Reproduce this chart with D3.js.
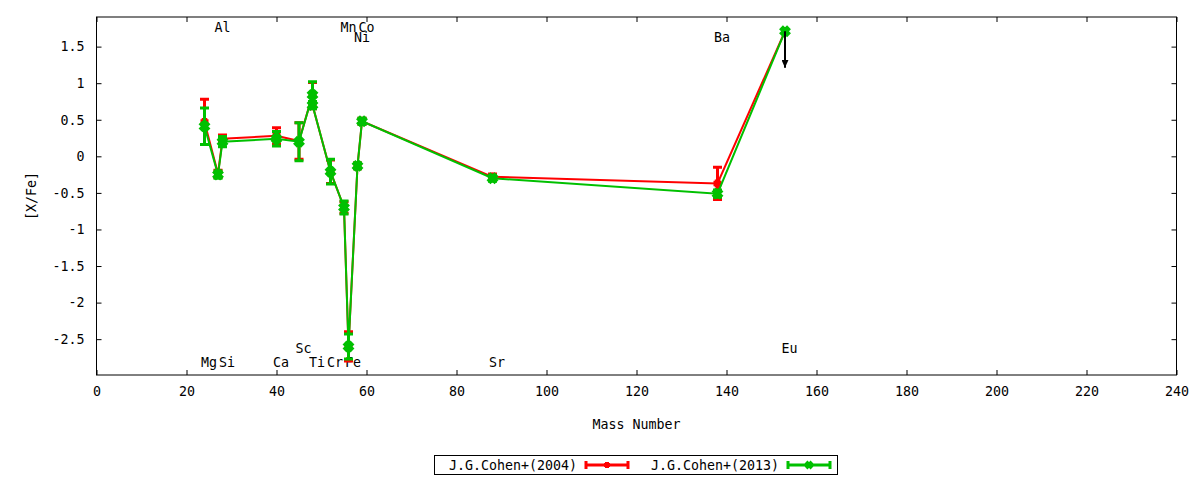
<!DOCTYPE html>
<html>
<head>
<meta charset="utf-8">
<script src="https://cdn.jsdelivr.net/npm/d3@7"></script>
<style>
  body { margin: 0; background: #fff; }
  text { font-family: "DejaVu Sans Mono", monospace; font-size: 13.3px; fill: #000; }
</style>
</head>
<body>
<svg id="chart" width="1200" height="480"></svg>
<script>
// Data (sorted by mass number)
var masses    = [24, 27, 28, 40, 45, 48, 48, 52, 55, 56, 58, 59, 88, 138, 153];
var elements  = ["Mg", "Al", "Si", "Ca", "Sc", "Ti", "Ti", "Cr", "Mn", "Fe", "Ni", "Co", "Sr", "Ba", "Eu"];
var cohen2004 = [0.47, -0.24, 0.24, 0.28, 0.21, 0.84, 0.70, -0.21, -0.70, -2.60, -0.13, 0.48, -0.28, -0.37, 1.71];
var err2004   = [0.31, 0.05, 0.05, 0.11, 0.25, 0.17, 0.05, 0.16, 0.08, 0.20, 0.04, 0.04, 0.04, 0.22, 0];
var cohen2013 = [0.41, -0.25, 0.20, 0.24, 0.20, 0.84, 0.70, -0.21, -0.70, -2.60, -0.13, 0.48, -0.30, -0.51, 1.71];
var err2013   = [0.25, 0.05, 0.07, 0.10, 0.26, 0.18, 0.05, 0.17, 0.09, 0.17, 0.04, 0.04, 0.04, 0.05, 0];
var upperLimitMass = [153];
var upperLimitValue = [1.71];

// Element labels
var labelNames  = ["Mg", "Al", "Si", "Ca", "Sc", "Ti", "Cr", "Mn", "Fe", "Ni", "Co", "Sr", "Ba", "Eu"];
var labelMasses = [24, 27, 28, 40, 45, 48, 52, 55, 56, 58, 59, 88, 138, 153];
var labelLevels = [-2.82, 1.76, -2.82, -2.82, -2.63, -2.82, -2.82, 1.76, -2.82, 1.63, 1.76, -2.82, 1.63, -2.63];

// Axis ticks
var xTicks = [0, 20, 40, 60, 80, 100, 120, 140, 160, 180, 200, 220, 240];
var yTicks = [-2.5, -2, -1.5, -1, -0.5, 0, 0.5, 1, 1.5];

var series = [
    { name: "J.G.Cohen+(2004)", values: cohen2004, errors: err2004, color: "#ff0000", marker: "plus" },
    { name: "J.G.Cohen+(2013)", values: cohen2013, errors: err2013, color: "#00c000", marker: "cross" }
];

var plotLeft = 96.5, plotRight = 1176.5, plotTop = 17, plotBottom = 375;
var svg = d3.select("#chart");

var xScale = d3.scaleLinear().domain([0, 240]).range([plotLeft, plotRight]);
var yScale = d3.scaleLinear().domain([-2.99, 1.905]).range([plotBottom, plotTop]);

// Axes (ticks inward, mirrored)
svg.append("g")
    .attr("transform", "translate(0," + plotBottom + ")")
    .call(d3.axisBottom(xScale).tickValues(xTicks).tickSize(-5).tickSizeOuter(0).tickPadding(12)
        .tickFormat(d3.format("d")));
svg.append("g")
    .attr("transform", "translate(0," + plotTop + ")")
    .call(d3.axisTop(xScale).tickValues(xTicks).tickSize(-5).tickSizeOuter(0).tickFormat(""));
svg.append("g")
    .attr("transform", "translate(" + plotLeft + ",0)")
    .call(d3.axisLeft(yScale).tickValues(yTicks).tickSize(-5).tickSizeOuter(0).tickPadding(12)
        .tickFormat(function (d) { return String(d); }));
svg.append("g")
    .attr("transform", "translate(" + plotRight + ",0)")
    .call(d3.axisRight(yScale).tickValues(yTicks).tickSize(-5).tickSizeOuter(0).tickFormat(""));

svg.selectAll(".domain").remove();
svg.selectAll(".tick line").attr("stroke", "#000");
svg.selectAll(".tick text").style("font-family", "DejaVu Sans Mono").style("font-size", "13.3px");

svg.append("rect")
    .attr("x", plotLeft).attr("y", plotTop)
    .attr("width", plotRight - plotLeft).attr("height", plotBottom - plotTop)
    .attr("fill", "none").attr("stroke", "#000").attr("stroke-width", 1);

// Axis titles
svg.append("text")
    .attr("x", (plotLeft + plotRight) / 2).attr("y", 429)
    .attr("text-anchor", "middle")
    .text("Mass Number");
svg.append("text")
    .attr("transform", "translate(36," + ((plotTop + plotBottom) / 2) + ") rotate(-90)")
    .attr("text-anchor", "middle")
    .text("[X/Fe]");

// Element labels
svg.selectAll(".elabel")
    .data(labelNames)
    .enter()
    .append("text")
    .attr("class", "elabel")
    .attr("x", function (d, i) { return xScale(labelMasses[i]) - 3.5; })
    .attr("y", function (d, i) { return yScale(labelLevels[i]); })
    .attr("dy", "0.36em")
    .text(function (d) { return d; });

function markerPath(type, cx, cy, s) {
    if (type === "plus") {
        return "M" + (cx - s) + "," + cy + "H" + (cx + s) + "M" + cx + "," + (cy - s) + "V" + (cy + s);
    }
    return "M" + (cx - s) + "," + (cy - s) + "L" + (cx + s) + "," + (cy + s) +
        "M" + (cx - s) + "," + (cy + s) + "L" + (cx + s) + "," + (cy - s);
}

var line = d3.line()
    .x(function (d) { return xScale(d.m); })
    .y(function (d) { return yScale(d.v); });

series.forEach(function (s) {
    var pts = masses.map(function (m, i) { return { m: m, v: s.values[i], e: s.errors[i] }; });
    var g = svg.append("g");

    g.append("path")
        .datum(pts)
        .attr("d", line)
        .attr("fill", "none")
        .attr("stroke", s.color)
        .attr("stroke-width", 2);

    var bars = pts.filter(function (d) { return d.e > 0; });
    g.selectAll(".ebar")
        .data(bars)
        .enter()
        .append("path")
        .attr("d", function (d) {
            var x = xScale(d.m), y1 = yScale(d.v + d.e), y2 = yScale(d.v - d.e);
            return "M" + x + "," + y1 + "V" + y2 +
                "M" + (x - 4.5) + "," + y1 + "H" + (x + 4.5) +
                "M" + (x - 4.5) + "," + y2 + "H" + (x + 4.5);
        })
        .attr("fill", "none")
        .attr("stroke", s.color)
        .attr("stroke-width", 3);

    g.selectAll(".pt")
        .data(pts)
        .enter()
        .append("path")
        .attr("d", function (d) { return markerPath(s.marker, xScale(d.m), yScale(d.v), 4); })
        .attr("fill", "none")
        .attr("stroke", s.color)
        .attr("stroke-width", 5.5);
});

// Upper limit arrow (Eu)
svg.append("defs").append("marker")
    .attr("id", "ahead")
    .attr("viewBox", "0 0 10 10")
    .attr("refX", 10).attr("refY", 5)
    .attr("markerWidth", 4).attr("markerHeight", 3.5)
    .attr("markerUnits", "strokeWidth")
    .attr("orient", "auto")
    .attr("preserveAspectRatio", "none")
    .append("path")
    .attr("d", "M0,0L10,5L0,10Z")
    .attr("fill", "#000");

svg.selectAll(".ulim")
    .data(upperLimitMass)
    .enter()
    .append("line")
    .attr("x1", function (d) { return xScale(d); })
    .attr("x2", function (d) { return xScale(d); })
    .attr("y1", function (d, i) { return yScale(upperLimitValue[i]); })
    .attr("y2", function (d, i) { return yScale(upperLimitValue[i] - 0.5); })
    .attr("stroke", "#000")
    .attr("stroke-width", 2)
    .attr("marker-end", "url(#ahead)");

// Legend
var legend = svg.append("g");
legend.append("rect")
    .attr("x", 434.5).attr("y", 455.5)
    .attr("width", 403).attr("height", 19)
    .attr("fill", "none").attr("stroke", "#000");

var legendTextEnd = [577, 779];
series.forEach(function (s, i) {
    var tx = legendTextEnd[i];
    var ly = 465;
    legend.append("text")
        .attr("x", tx).attr("y", ly)
        .attr("dy", "0.36em")
        .attr("text-anchor", "end")
        .text(s.name);
    var x1 = tx + 9, x2 = tx + 51, xm = (x1 + x2) / 2;
    legend.append("path")
        .attr("d", "M" + x1 + "," + ly + "H" + x2 +
            "M" + x1 + "," + (ly - 4) + "V" + (ly + 4) +
            "M" + x2 + "," + (ly - 4) + "V" + (ly + 4))
        .attr("fill", "none")
        .attr("stroke", s.color)
        .attr("stroke-width", 3);
    legend.append("path")
        .attr("d", markerPath(s.marker, xm, ly, 3))
        .attr("fill", "none")
        .attr("stroke", s.color)
        .attr("stroke-width", 4);
});
</script>
</body>
</html>
